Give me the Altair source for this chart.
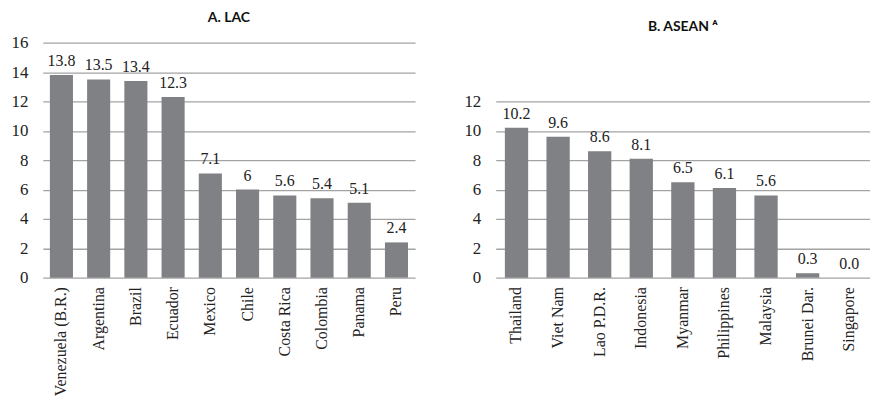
import altair as alt
import pandas as pd

lac_countries = ["Venezuela (B.R.)", "Argentina", "Brazil", "Ecuador", "Mexico",
                 "Chile", "Costa Rica", "Colombia", "Panama", "Peru"]
lac_values = [13.8, 13.5, 13.4, 12.3, 7.1, 6, 5.6, 5.4, 5.1, 2.4]
lac_labels = ["13.8", "13.5", "13.4", "12.3", "7.1", "6", "5.6", "5.4", "5.1", "2.4"]

asean_countries = ["Thailand", "Viet Nam", "Lao P.D.R.", "Indonesia", "Myanmar",
                   "Philippines", "Malaysia", "Brunei Dar.", "Singapore"]
asean_values = [10.2, 9.6, 8.6, 8.1, 6.5, 6.1, 5.6, 0.3, 0.0]
asean_labels = ["10.2", "9.6", "8.6", "8.1", "6.5", "6.1", "5.6", "0.3", "0.0"]

lac_ticks = [0, 2, 4, 6, 8, 10, 12, 14, 16]
asean_ticks = [0, 2, 4, 6, 8, 10, 12]

SERIF = "Liberation Serif"
BAR = "#808184"


def panel(countries, values, labels, ticks, title, width, padding):
    df = pd.DataFrame({"country": countries, "value": values, "label": labels})
    x = alt.X("country:N", sort=countries, title=None,
              scale=alt.Scale(paddingInner=padding, paddingOuter=padding / 2),
              axis=alt.Axis(labelAngle=-90, labelFont=SERIF, labelFontSize=16,
                            labelColor="#222", domain=False, ticks=False,
                            labelPadding=9, labelAlign="right", labelBaseline="middle"))
    y = alt.Y("value:Q", title=None, scale=alt.Scale(domain=[0, 16], nice=False),
              axis=alt.Axis(values=ticks, labelFont=SERIF, labelFontSize=17,
                            labelColor="#222", domain=False, ticks=False,
                            labelPadding=15, grid=True, gridColor="#a3a3a3",
                            gridWidth=1.3, labelOverlap=False))
    base = alt.Chart(df).encode(x=x, y=y)
    bars = base.mark_bar(color=BAR)
    text = base.mark_text(font=SERIF, fontSize=16, color="#222", dy=-6,
                          baseline="bottom").encode(text="label:N")
    return alt.layer(bars, text).properties(
        width=width, height=236,
        title=alt.TitleParams(title, font="Lato", fontSize=14, fontWeight="bold",
                              color="#111", anchor="middle", offset=9))


left = panel(lac_countries, lac_values, lac_labels, lac_ticks, "A. LAC", 374, 0.38)
right = panel(asean_countries, asean_values, asean_labels, asean_ticks,
              "B. ASEAN \u1d2c", 376, 0.44)

chart = alt.hconcat(left, right, spacing=49).resolve_scale(x="independent").properties(
    padding={"left": 11, "top": 10, "right": 0, "bottom": 0},
    background="white",
).configure_view(strokeWidth=0, stroke="transparent")

chart.save("out.html", embed_options={"renderer": "svg", "actions": False})
